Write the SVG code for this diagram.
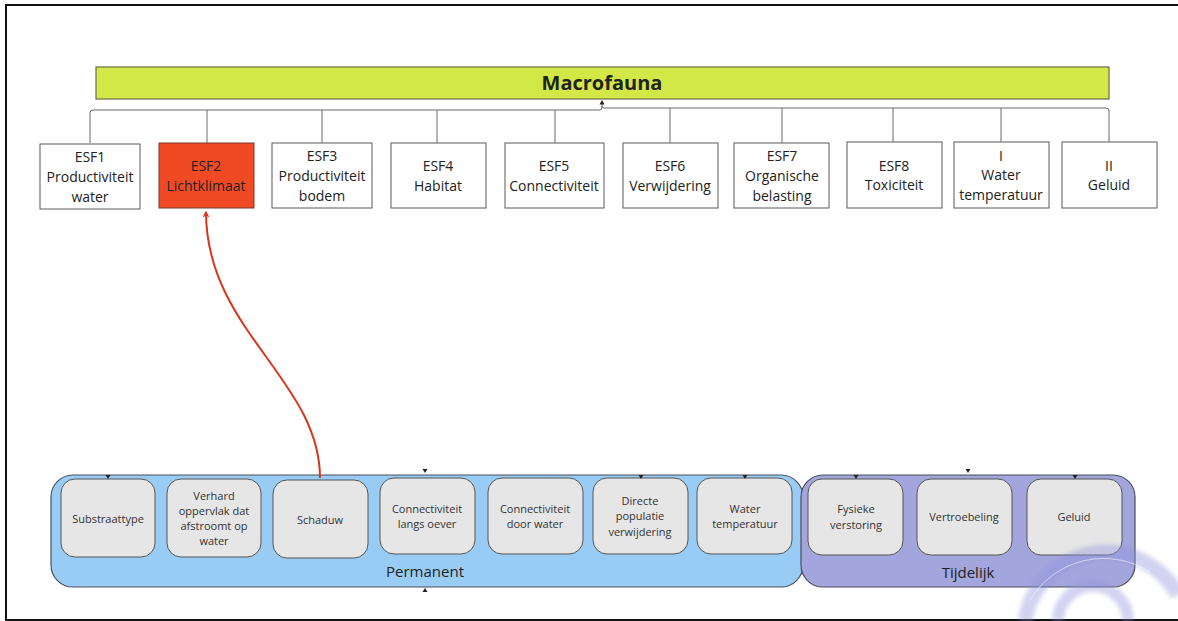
<svg xmlns="http://www.w3.org/2000/svg" width="1178" height="621" viewBox="0 0 1178 621">
  <style>
    .t { font-family: "Open Sans", "Noto Sans", "Liberation Sans", sans-serif; fill: #222; text-anchor: middle; }
    .top { font-size: 14px; }
    .inner { font-size: 11px; fill: #333; }
    .grp { font-size: 15px; }
    .esf { fill: #ffffff; stroke: #5a5a5a; stroke-width: 1; }
    .item { fill: #e6e6e6; stroke: #555; stroke-width: 1; }
    .tree { fill: none; stroke: #6a6a6a; stroke-width: 1; }
    .tick { fill: #222; }
  </style>
  <defs>
    <marker id="redHead" viewBox="0 0 10 10" refX="8" refY="5" markerWidth="7" markerHeight="7" orient="auto-start-reverse" markerUnits="userSpaceOnUse">
      <path d="M0,0 L10,5 L0,10 L3,5 Z" fill="#d9361c"/>
    </marker>
    <filter id="soft" x="-20%" y="-20%" width="140%" height="140%">
      <feGaussianBlur stdDeviation="2"/>
    </filter>
  </defs>

  <rect width="1178" height="621" fill="#ffffff"/>

  <!-- outer frame -->
  <path d="M1178,5 H6 V620 H1178" fill="none" stroke="#111" stroke-width="2"/>

  <!-- root -->
  <g id="macrofauna">
    <rect x="96" y="67" width="1013" height="32" fill="#d2e847" stroke="#6b6b4a" stroke-width="1.2"/>
    <text x="602" y="90" class="t" font-size="20" font-weight="bold" fill="#111">Macrofauna</text>
  </g>

  <!-- ESF row -->
  <g id="esf1"><rect class="esf" x="40" y="144" width="100" height="65"/>
    <text class="t top" x="90" y="162">ESF1</text><text class="t top" x="90" y="182">Productiviteit</text><text class="t top" x="90" y="202">water</text></g>
  <g id="esf2"><rect x="159" y="143" width="95" height="65" fill="#f04a25" stroke="#7a3a2a" stroke-width="1"/>
    <text class="t top" x="206" y="171">ESF2</text><text class="t top" x="206" y="191">Lichtklimaat</text></g>
  <g id="esf3"><rect class="esf" x="272" y="143" width="100" height="65"/>
    <text class="t top" x="322" y="161">ESF3</text><text class="t top" x="322" y="181">Productiviteit</text><text class="t top" x="322" y="201">bodem</text></g>
  <g id="esf4"><rect class="esf" x="391" y="143" width="95" height="65"/>
    <text class="t top" x="438" y="171">ESF4</text><text class="t top" x="438" y="191">Habitat</text></g>
  <g id="esf5"><rect class="esf" x="505" y="143" width="99" height="65"/>
    <text class="t top" x="554" y="171">ESF5</text><text class="t top" x="554" y="191">Connectiviteit</text></g>
  <g id="esf6"><rect class="esf" x="623" y="143" width="95" height="65"/>
    <text class="t top" x="670" y="171">ESF6</text><text class="t top" x="670" y="191">Verwijdering</text></g>
  <g id="esf7"><rect class="esf" x="734" y="143" width="95" height="65"/>
    <text class="t top" x="782" y="161">ESF7</text><text class="t top" x="782" y="181">Organische</text><text class="t top" x="782" y="201">belasting</text></g>
  <g id="esf8"><rect class="esf" x="847" y="142" width="95" height="66"/>
    <text class="t top" x="894" y="171">ESF8</text><text class="t top" x="894" y="190">Toxiciteit</text></g>
  <g id="factor-i"><rect class="esf" x="954" y="142" width="95" height="66"/>
    <text class="t top" x="1001" y="161">I</text><text class="t top" x="1001" y="180">Water</text><text class="t top" x="1001" y="200">temperatuur</text></g>
  <g id="factor-ii"><rect class="esf" x="1062" y="142" width="95" height="66"/>
    <text class="t top" x="1109" y="171">II</text><text class="t top" x="1109" y="190">Geluid</text></g>

  <!-- permanent pressures -->
  <g id="permanent">
    <rect x="51" y="475" width="752" height="112" rx="22" fill="#99ccf5" stroke="#4a4f58" stroke-width="1.2"/>
    <text class="t grp" x="425" y="577">Permanent</text>
  </g>
  <!-- temporary pressures -->
  <g id="tijdelijk">
    <rect x="801" y="475" width="334" height="112" rx="22" fill="#a3a6dc" stroke="#4a4f58" stroke-width="1.2"/>
    <text class="t grp" x="968" y="578">Tijdelijk</text>
  </g>

  <g id="substraattype"><rect class="item" x="61" y="479" width="94" height="78" rx="14"/>
    <text class="t inner" x="108" y="523">Substraattype</text></g>
  <g id="verhard"><rect class="item" x="167" y="479" width="94" height="78" rx="14"/>
    <text class="t inner" x="214" y="500">Verhard</text><text class="t inner" x="214" y="515">oppervlak dat</text><text class="t inner" x="214" y="530">afstroomt op</text><text class="t inner" x="214" y="545">water</text></g>
  <g id="schaduw"><rect class="item" x="273" y="480" width="95" height="78" rx="14"/>
    <text class="t inner" x="320" y="524">Schaduw</text></g>
  <g id="conn-oever"><rect class="item" x="380" y="478" width="95" height="76" rx="14"/>
    <text class="t inner" x="427" y="513">Connectiviteit</text><text class="t inner" x="427" y="528">langs oever</text></g>
  <g id="conn-water"><rect class="item" x="488" y="478" width="95" height="76" rx="14"/>
    <text class="t inner" x="535" y="513">Connectiviteit</text><text class="t inner" x="535" y="528">door water</text></g>
  <g id="populatie"><rect class="item" x="593" y="478" width="95" height="76" rx="14"/>
    <text class="t inner" x="640" y="505">Directe</text><text class="t inner" x="640" y="520">populatie</text><text class="t inner" x="640" y="536">verwijdering</text></g>
  <g id="watertemp"><rect class="item" x="697" y="478" width="95" height="76" rx="14"/>
    <text class="t inner" x="745" y="513">Water</text><text class="t inner" x="745" y="528">temperatuur</text></g>
  <g id="fysiek"><rect class="item" x="808" y="479" width="95" height="76" rx="14"/>
    <text class="t inner" x="856" y="513">Fysieke</text><text class="t inner" x="856" y="529">verstoring</text></g>
  <g id="vertroebeling"><rect class="item" x="917" y="479" width="95" height="76" rx="14"/>
    <text class="t inner" x="964" y="521">Vertroebeling</text></g>
  <g id="geluid"><rect class="item" x="1027" y="479" width="95" height="76" rx="14"/>
    <text class="t inner" x="1074" y="521">Geluid</text></g>

  <!-- connectors: tree, Schaduw link and edge ticks -->
  <g id="connectors">
    <path class="tree" d="M90,143 V113 Q90,110 93,110 H600 Q602,110 602,107 V102"/>
    <path class="tree" d="M1109,142 V111 Q1109,108 1106,108 H604 Q602,108 602,106"/>
    <path class="tree" d="M207,143 V110 M322,143 V110 M437,143 V110 M555,143 V110 M670,143 V108 M782,143 V108 M893,142 V108 M1001,142 V108"/>
    <path class="tick" d="M602,100 L599.5,104.5 H604.5 Z"/>
    <path d="M320,478 C320,380 206,330 206,212" fill="none" stroke="#d9361c" stroke-width="2" marker-end="url(#redHead)"/>
    <path class="tick" d="M105.5,475 H110.5 L108,479 Z"/>
    <path class="tick" d="M422.5,469 H427.5 L425,473 Z"/>
    <path class="tick" d="M638.5,475 H643.5 L641,479 Z"/>
    <path class="tick" d="M742.5,475 H747.5 L745,479 Z"/>
    <path class="tick" d="M853.5,475 H858.5 L856,479 Z"/>
    <path class="tick" d="M965.5,469 H970.5 L968,473 Z"/>
    <path class="tick" d="M1072.5,475 H1077.5 L1075,479 Z"/>
    <path class="tick" d="M422.5,592 H427.5 L425,588 Z"/>
  </g>

  <!-- faint logo arcs in the lower right corner -->
  <g opacity="0.4" fill="none" filter="url(#soft)">
    <path d="M1025,621 A82,82 0 0 1 1178,595" stroke="#8f93dc" stroke-width="15"/>
    <path d="M1058,621 A35,35 0 0 1 1128,621" stroke="#8f93dc" stroke-width="12"/>
  </g>
  <path d="M1030,600 A86,86 0 0 1 1150,572" fill="none" stroke="#ffffff" stroke-width="0.8" opacity="0.7"/>
</svg>
